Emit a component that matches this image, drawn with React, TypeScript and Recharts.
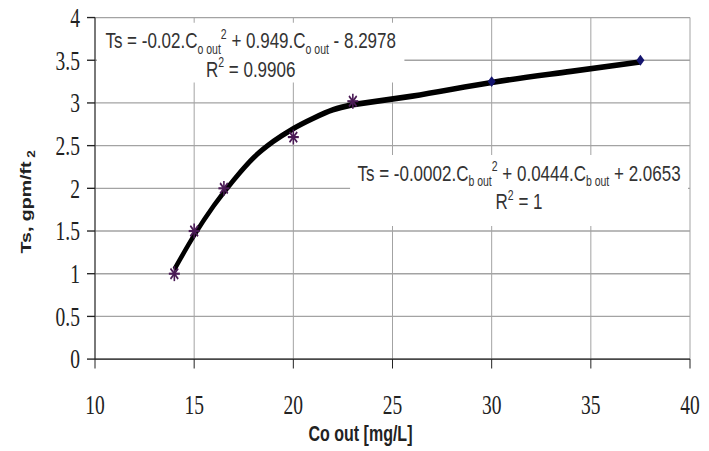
import React from 'react'
import {
  ComposedChart, Line, Scatter, XAxis, YAxis, CartesianGrid, ReferenceArea,
} from 'recharts'

// the source picture is stretched vertically, so the chart is drawn shorter and scaled up
const STRETCH = 1.35
const WIDTH = 709
const HEIGHT = Math.round(451 / STRETCH)

const X_TICKS = [10, 15, 20, 25, 30, 35, 40]
const Y_TICKS = [0, 0.5, 1, 1.5, 2, 2.5, 3, 3.5, 4]

// measured points (asterisks)
const pointX = [14, 15, 16.5, 20, 23]
const pointY = [1, 1.5, 2, 2.6, 3.02]
// points of the second range (small dark markers)
const laterX = [30, 37.5]
const laterY = [3.25, 3.5]

// trend curves
const fitAX = [14, 15, 16, 17, 18, 19, 20, 21, 22, 23]
const fitAY = [1.05, 1.45, 1.8, 2.1, 2.36, 2.55, 2.7, 2.82, 2.92, 2.98]
const fitBX = [23, 26, 30, 34, 37.5]
const fitBY = [2.98, 3.08, 3.24, 3.37, 3.48]

const zip = (xs: number[], ys: number[]) => xs.map((x, i) => ({ x, y: ys[i] }))

const points = zip(pointX, pointY)
const laterPoints = zip(laterX, laterY)
const fitA = zip(fitAX, fitAY)
const fitB = zip(fitBX, fitBY)

const SERIF = '"Liberation Serif", "Times New Roman", serif'
const SANS = '"Liberation Sans", Arial, sans-serif'

function Asterisk(props: any) {
  const { cx, cy } = props
  const r = 5.5
  const d = r * 0.7
  return (
    <g stroke="#4a1a55" strokeWidth={1.6}>
      <line x1={cx - r} y1={cy} x2={cx + r} y2={cy} />
      <line x1={cx} y1={cy - r} x2={cx} y2={cy + r} />
      <line x1={cx - d} y1={cy - d} x2={cx + d} y2={cy + d} />
      <line x1={cx - d} y1={cy + d} x2={cx + d} y2={cy - d} />
    </g>
  )
}

function Diamond(props: any) {
  const { cx, cy } = props
  const r = 4
  return <path d={`M${cx},${cy - r}L${cx + r},${cy}L${cx},${cy + r}L${cx - r},${cy}Z`} fill="#14146e" />
}

function Equation(props: any) {
  const { viewBox, coef, r2 } = props
  const cx = viewBox.x + viewBox.width / 2
  const top = viewBox.y
  const style = { fontFamily: SANS, fontSize: 17, fill: '#333' }
  return (
    <g>
      <text x={cx} y={top + 19} textAnchor="middle" style={style}>
        {`Ts = ${coef[0]}.C`}
        <tspan fontSize={10.5} dy={4}>{coef[3]}</tspan>
        <tspan fontSize={10.5} dy={-11}>2</tspan>
        <tspan dy={7}>{` ${coef[1]}.C`}</tspan>
        <tspan fontSize={10.5} dy={4}>{coef[3]}</tspan>
        <tspan dy={-4}>{` ${coef[2]}`}</tspan>
      </text>
      <text x={cx} y={top + 40} textAnchor="middle" style={style}>
        R<tspan fontSize={10.5} dy={-7}>2</tspan>
        <tspan dy={7}>{` = ${r2}`}</tspan>
      </text>
    </g>
  )
}

function YTitle(props: any) {
  const { viewBox } = props
  const x = viewBox.x + 31
  const y = viewBox.y + viewBox.height / 2 + 10
  return (
    <text
      x={x} y={y} transform={`rotate(-90, ${x}, ${y})`} textAnchor="middle"
      style={{ fontFamily: SANS, fontSize: 14.5, fontWeight: 'bold', fill: '#222' }}
    >
      Ts, gpm/ft<tspan fontSize={10} dy={4}> 2</tspan>
    </text>
  )
}

function XTitle(props: any) {
  const { viewBox } = props
  return (
    <text
      x={viewBox.x + viewBox.width / 2 - 32} y={viewBox.y + 61} textAnchor="middle"
      style={{ fontFamily: SANS, fontSize: 16, fontWeight: 'bold', fill: '#222' }}
    >
      Co out [mg/L]
    </text>
  )
}

export default function App() {
  return (
    <div style={{ position: 'absolute', left: 0, top: 0, width: 709, height: 451, background: '#fff', overflow: 'hidden' }}>
      <div style={{ transform: `scaleY(${STRETCH})`, transformOrigin: '0 0' }}>
        <ComposedChart width={WIDTH} height={HEIGHT} margin={{ top: 13, right: 19, left: 0, bottom: 0 }}>
          <CartesianGrid stroke="#a3a3a3" strokeWidth={1} />
          <XAxis
            type="number"
            dataKey="x"
            domain={[10, 40]}
            ticks={X_TICKS}
            interval={0}
            height={68}
            tickSize={7}
            tickMargin={20}
            stroke="#222"
            tick={{ fontFamily: SERIF, fontSize: 19.5, fill: '#222' }}
            label={<XTitle />}
          />
          <YAxis
            type="number"
            domain={[0, 4]}
            ticks={Y_TICKS}
            interval={0}
            width={95}
            tickSize={8}
            tickMargin={7}
            stroke="#222"
            tick={{ fontFamily: SERIF, fontSize: 19.5, fill: '#222' }}
            label={<YTitle />}
          />
          <ReferenceArea
            x1={10.1} x2={25.6} y1={3.24} y2={3.94}
            fill="#fff" fillOpacity={1} stroke="none"
            label={<Equation coef={['-0.02', '+ 0.949', '- 8.2978', 'o out']} r2="0.9906" />}
          />
          <ReferenceArea
            x1={22.86} x2={39.9} y1={1.56} y2={2.39}
            fill="#fff" fillOpacity={1} stroke="none"
            label={<Equation coef={['-0.0002', '+ 0.0444', '+ 2.0653', 'b out']} r2="1" />}
          />
          <Line data={fitA} dataKey="y" type="monotone" stroke="#000" strokeWidth={4.2} dot={false} isAnimationActive={false} />
          <Line data={fitB} dataKey="y" type="monotone" stroke="#000" strokeWidth={4.2} dot={false} isAnimationActive={false} />
          <Scatter data={points} dataKey="y" shape={<Asterisk />} isAnimationActive={false} />
          <Scatter data={laterPoints} dataKey="y" shape={<Diamond />} isAnimationActive={false} />
        </ComposedChart>
      </div>
    </div>
  )
}
